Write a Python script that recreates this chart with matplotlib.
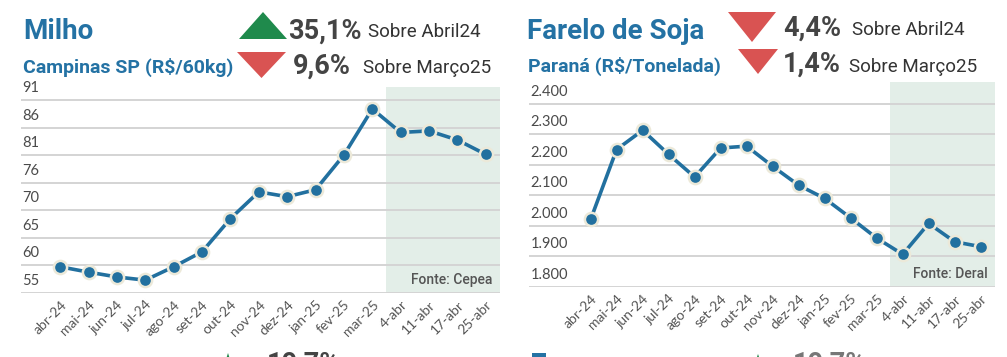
import numpy as np
import matplotlib
matplotlib.use("Agg")
import matplotlib.pyplot as plt
from matplotlib.patches import Polygon, Rectangle
from matplotlib.transforms import blended_transform_factory

labels = ["abr-24", "mai-24", "jun-24", "jul-24", "ago-24", "set-24", "out-24",
          "nov-24", "dez-24", "jan-25", "fev-25", "mar-25", "4-abr", "11-abr",
          "17-abr", "25-abr"]

milho = [59.9, 58.9, 58.0, 57.4, 59.9, 62.7, 68.9, 73.9, 73.0, 74.3, 80.8,
         89.4, 85.0, 85.3, 83.6, 80.9]
farelo = [2021, 2250, 2313, 2234, 2160, 2255, 2261, 2195, 2133, 2090, 2026,
          1960, 1907, 2008, 1948, 1932]

milho_ticks = np.linspace(55, 91, 8)
milho_ticklabels = ["55", "60", "65", "70", "76", "81", "86", "91"]
farelo_ticks = [1800, 1900, 2000, 2100, 2200, 2300, 2400]
farelo_ticklabels = ["1.800", "1.900", "2.000", "2.100", "2.200", "2.300", "2.400"]

W, H = 1007, 357
BLUE = "#22709f"
TITLE = "#2472a4"
GREEN = "#1f8a4c"
RED = "#d95352"
SHADE = "#e3eee8"
GRID = "#d4d4d4"
DARK = "#444444"

fig = plt.figure(figsize=(W / 100, H / 100), dpi=100)
fig.patch.set_facecolor("white")


def box(x0, y0, x1, y1):
    # pixel box (top-left origin) -> figure fraction rect
    return [x0 / W, 1 - y1 / H, (x1 - x0) / W, (y1 - y0) / H]


def tri(x0, x1, ytop, ybot, up, color):
    if up:
        pts = [(x0, ybot), (x1, ybot), ((x0 + x1) / 2, ytop)]
    else:
        pts = [(x0, ytop), (x1, ytop), ((x0 + x1) / 2, ybot)]
    pts = [(x / W, 1 - y / H) for x, y in pts]
    fig.patches.append(Polygon(pts, closed=True, transform=fig.transFigure,
                               facecolor=color, edgecolor="none"))


def txt(x, y, s, size, color, weight="normal", family="Roboto"):
    fig.text(x / W, 1 - y / H, s, fontsize=size, color=color, weight=weight,
             family=family, ha="left", va="baseline")


def panel(rect, values, ticks, ticklabels, ylim, xlim, source):
    ax = fig.add_axes(rect)
    x = np.arange(len(values))
    ax.set_xlim(*xlim)
    ax.set_ylim(*ylim)
    ax.add_patch(Rectangle((11.5, ylim[0]), xlim[1] - 11.5, ylim[1] - ylim[0],
                           facecolor=SHADE, edgecolor="none", zorder=0))
    for t in ticks:
        ax.axhline(t, color=GRID, lw=1.4, zorder=1)
    tr = blended_transform_factory(ax.transAxes, ax.transData)
    for t, lab in zip(ticks, ticklabels):
        ax.text(0.003, t + (ylim[1] - ylim[0]) * 0.025, lab, transform=tr,
                fontsize=10.5, color="#4a4a4a", family="Lato",
                ha="left", va="bottom")
    ax.plot(x, values, color=BLUE, lw=2.6, zorder=3,
            marker="o", markersize=9.5, markerfacecolor=BLUE,
            markeredgecolor="#ece9d9", markeredgewidth=1.8)
    ax.set_yticks([])
    ax.set_xticks(x)
    ax.set_xticklabels(labels, rotation=45, ha="right", rotation_mode="anchor",
                       fontsize=10, color="#555555", family="Lato")
    ax.tick_params(axis="x", length=0, pad=4)
    for s in ax.spines.values():
        s.set_visible(False)
    ax.text(0.985, 0.03, source, transform=ax.transAxes, ha="right",
            va="bottom", fontsize=10, color="#555555", weight="medium",
            family="Roboto")
    return ax


# Milho
panel(box(21, 87, 500, 293), milho, milho_ticks, milho_ticklabels,
      (55, 93.5), (-1.38, 15.5), "Fonte: Cepea")
# Farelo de Soja
panel(box(529, 82, 995, 287), farelo, farelo_ticks, farelo_ticklabels,
      (1800, 2471), (-2.37, 15.55), "Fonte: Deral")

# headers, left
txt(23, 39, "Milho", 20, TITLE, "bold")
txt(23, 73, "Campinas SP (R$/60kg)", 14, TITLE, "bold")
tri(239, 287, 12, 39, True, GREEN)
tri(237, 286, 52, 78, False, RED)
txt(288, 39, "35,1%", 19.5, DARK, "bold")
txt(368, 37, "Sobre Abril24", 13.5, "#333333")
txt(293, 74, "9,6%", 19.5, DARK, "bold")
txt(363, 73, "Sobre Março25", 13.5, "#333333")

# headers, right
txt(527, 39, "Farelo de Soja", 20, TITLE, "bold")
txt(528, 72, "Paraná (R$/Tonelada)", 14, TITLE, "bold")
tri(728, 776, 12, 42, False, RED)
tri(738, 778, 49, 74, False, RED)
txt(783, 36, "4,4%", 19.5, DARK, "bold")
txt(852, 35, "Sobre Abril24", 13.5, "#333333")
txt(783, 72, "1,4%", 19.5, DARK, "bold")
txt(849, 72, "Sobre Março25", 13.5, "#333333")

# next row, cut off at the bottom edge
tri(222, 234, 353, 372, True, GREEN)
txt(267, 372, "10,7%", 19.5, DARK, "bold")
fig.patches.append(Rectangle((532 / W, 1 - 372 / H), 14 / W, 19 / H,
                             transform=fig.transFigure, facecolor=TITLE,
                             edgecolor="none"))
tri(752, 764, 354, 372, True, GREEN)
txt(793, 372, "10,7%", 19.5, "#777777", "bold")

fig.savefig("out.png", dpi=100, facecolor="white")
